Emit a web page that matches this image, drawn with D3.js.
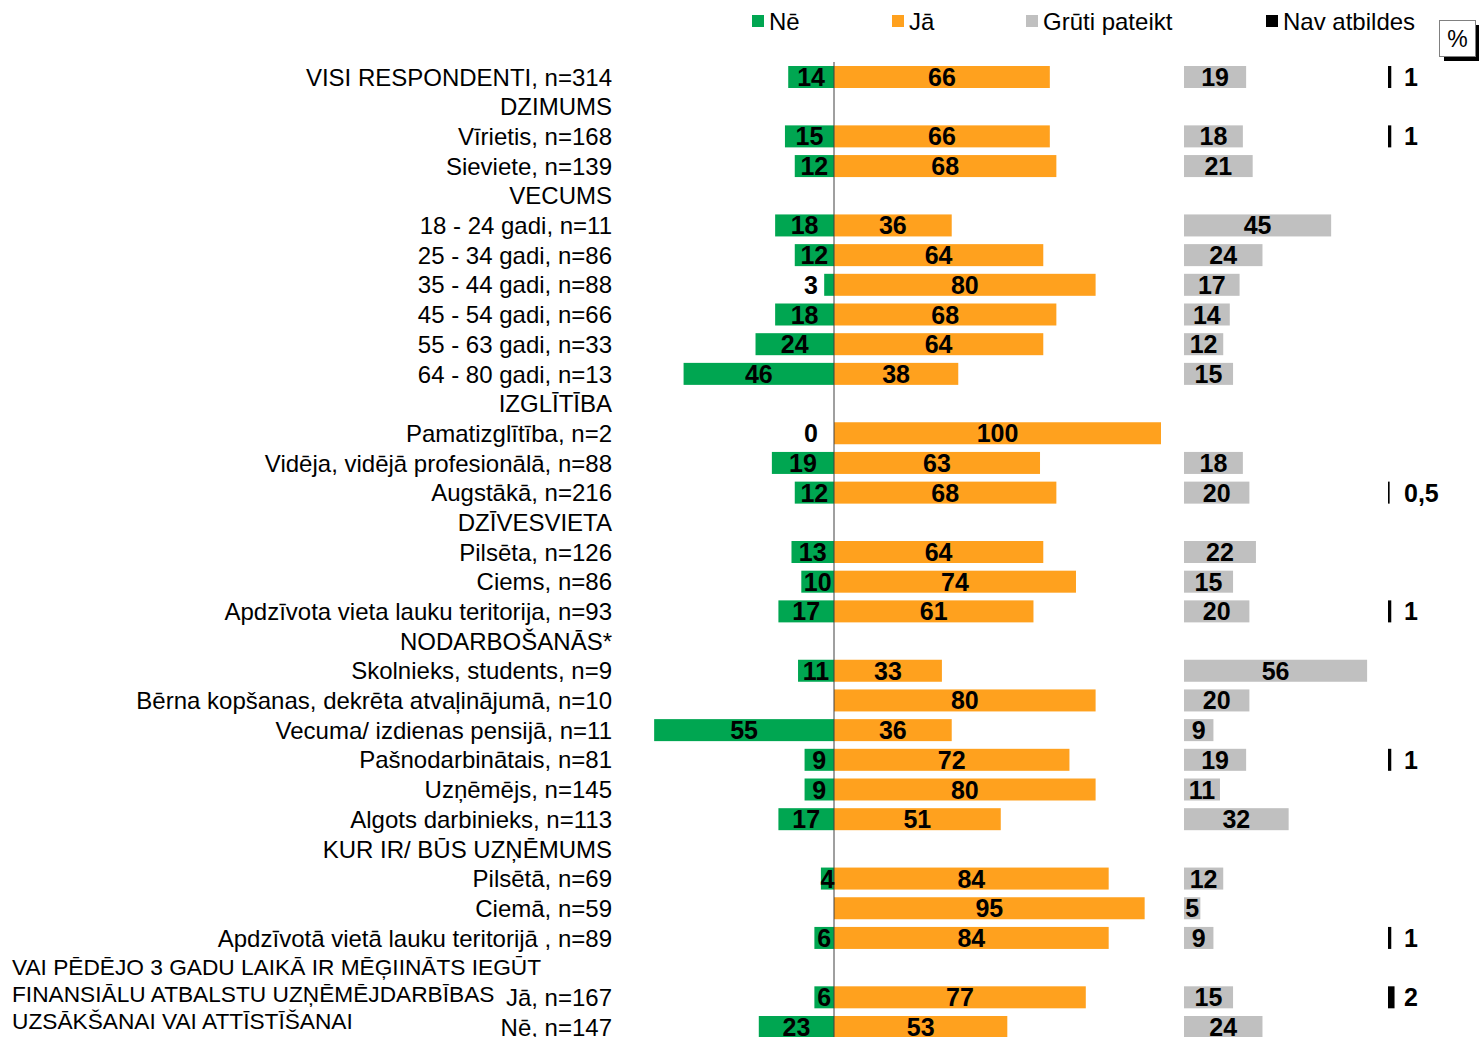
<!DOCTYPE html>
<html><head><meta charset="utf-8">
<script src="https://cdn.jsdelivr.net/npm/d3@7"></script>
<style>body{margin:0;background:#fff}svg{display:block}</style>
</head><body><svg id="c" width="1479" height="1037"></svg>
<script>
const categories = [
"VISI RESPONDENTI, n=314","DZIMUMS","Vīrietis, n=168","Sieviete, n=139","VECUMS",
"18 - 24 gadi, n=11","25 - 34 gadi, n=86","35 - 44 gadi, n=88","45 - 54 gadi, n=66","55 - 63 gadi, n=33","64 - 80 gadi, n=13",
"IZGLĪTĪBA","Pamatizglītība, n=2","Vidēja, vidējā profesionālā, n=88","Augstākā, n=216",
"DZĪVESVIETA","Pilsēta, n=126","Ciems, n=86","Apdzīvota vieta lauku teritorija, n=93",
"NODARBOŠANĀS*","Skolnieks, students, n=9","Bērna kopšanas, dekrēta atvaļinājumā, n=10","Vecuma/ izdienas pensijā, n=11","Pašnodarbinātais, n=81","Uzņēmējs, n=145","Algots darbinieks, n=113",
"KUR IR/ BŪS UZŅĒMUMS","Pilsētā, n=69","Ciemā, n=59","Apdzīvotā vietā lauku teritorijā , n=89",
"","Jā, n=167","Nē, n=147"];
const neValues =    [14,null,15,12,null,18,12,3,18,24,46,null,0,19,12,null,13,10,17,null,11,null,55,9,9,17,null,4,null,6,null,6,23];
const jaValues =    [66,null,66,68,null,36,64,80,68,64,38,null,100,63,68,null,64,74,61,null,33,80,36,72,80,51,null,84,95,84,null,77,53];
const grutiValues = [19,null,18,21,null,45,24,17,14,12,15,null,null,18,20,null,22,15,20,null,56,20,9,19,11,32,null,12,5,9,null,15,24];
const navValues =   [1,null,1,null,null,null,null,null,null,null,null,null,null,null,0.5,null,null,null,1,null,null,null,null,1,null,null,null,null,null,1,null,2,null];
const seriesNames = ["Nē","Jā","Grūti pateikt","Nav atbildes"];
const groupLabel = ["VAI PĒDĒJO 3 GADU LAIKĀ IR MĒĢIINĀTS IEGŪT","FINANSIĀLU ATBALSTU UZŅĒMĒJDARBĪBAS","UZSĀKŠANAI VAI ATTĪSTĪŠANAI"];

const colors = ["#00A651","#FFA11E","#C0C0C0","#000000"];
const svg = d3.select("#c");
const font = "'Liberation Sans', Arial, sans-serif";
const vfont = "'Liberation Sans Narrow', 'Liberation Sans', Arial, sans-serif";

const y = d3.scaleLinear().domain([0, categories.length-1]).range([77, 1027]);
const w = d3.scaleLinear().domain([0,100]).range([0,327]);
const x0 = 834, xG = 1184, xN = 1388, barH = 22;

// category labels
svg.append("g").selectAll("text").data(categories).join("text")
  .attr("x", 612).attr("y", (d,i)=>y(i)).attr("dy","0.36em")
  .attr("text-anchor","end").attr("font-family",font).attr("font-size",24).attr("fill","#000")
  .text(d=>d);
svg.append("g").selectAll("text").data(groupLabel).join("text")
  .attr("x", 12).attr("y",(d,i)=>967+i*27).attr("dy","0.36em")
  .attr("font-family",font).attr("font-size",22.7).attr("fill","#000").text(d=>d);

const idx = d3.range(categories.length);
// Ne bars
svg.append("g").selectAll("rect").data(idx.filter(i=>neValues[i]!=null && neValues[i]>0)).join("rect")
  .attr("x", i=>x0-w(neValues[i])).attr("y", i=>y(i)-barH/2).attr("width", i=>w(neValues[i])).attr("height", barH)
  .attr("fill", colors[0]);
// Ja bars
svg.append("g").selectAll("rect").data(idx.filter(i=>jaValues[i]!=null)).join("rect")
  .attr("x", x0).attr("y", i=>y(i)-barH/2).attr("width", i=>w(jaValues[i])).attr("height", barH)
  .attr("fill", colors[1]);
// Gruti bars
svg.append("g").selectAll("rect").data(idx.filter(i=>grutiValues[i]!=null)).join("rect")
  .attr("x", xG).attr("y", i=>y(i)-barH/2).attr("width", i=>w(grutiValues[i])).attr("height", barH)
  .attr("fill", colors[2]);
// Nav bars
svg.append("g").selectAll("rect").data(idx.filter(i=>navValues[i]!=null)).join("rect")
  .attr("x", xN).attr("y", i=>y(i)-barH/2).attr("width", i=>w(navValues[i])).attr("height", barH)
  .attr("fill", colors[3]);

// axis line
svg.append("line").attr("x1",x0).attr("x2",x0).attr("y1",62).attr("y2",1037).attr("stroke","#404040").attr("stroke-width",1);

function vlab(sel){ return sel.attr("font-family",vfont).attr("font-weight","bold").attr("font-size",25).attr("fill","#000").attr("dy","0.36em"); }
// labels
vlab(svg.append("g").selectAll("text").data(idx.filter(i=>neValues[i]!=null)).join("text")
  .attr("x", i=>neValues[i]<4 ? x0-16 : x0-w(neValues[i])/2)
  .attr("text-anchor", i=>neValues[i]<4 ? "end":"middle")
  .attr("y", i=>y(i)).text(i=>neValues[i]));
vlab(svg.append("g").selectAll("text").data(idx.filter(i=>jaValues[i]!=null)).join("text")
  .attr("x", i=>x0+w(jaValues[i])/2).attr("text-anchor","middle")
  .attr("y", i=>y(i)).text(i=>jaValues[i]));
vlab(svg.append("g").selectAll("text").data(idx.filter(i=>grutiValues[i]!=null)).join("text")
  .attr("x", i=>xG+w(grutiValues[i])/2).attr("text-anchor","middle")
  .attr("y", i=>y(i)).text(i=>grutiValues[i]));
vlab(svg.append("g").selectAll("text").data(idx.filter(i=>navValues[i]!=null)).join("text")
  .attr("x", 1404).attr("text-anchor","start")
  .attr("y", i=>y(i)).text(i=>String(navValues[i]).replace(".",",")));

// legend
const legX = [752, 892, 1026, 1266];
const lg = svg.append("g").selectAll("g").data(seriesNames).join("g")
  .attr("transform",(d,i)=>`translate(${legX[i]},21)`);
lg.append("rect").attr("x",0).attr("y",-6).attr("width",12).attr("height",12).attr("fill",(d,i)=>colors[i]);
lg.append("text").attr("x",17).attr("y",0).attr("dy","0.36em").attr("font-family",font).attr("font-size",24).text(d=>d);

// % box
svg.append("rect").attr("x",1444).attr("y",25).attr("width",36).attr("height",36).attr("fill","#000");
svg.append("rect").attr("x",1439.5).attr("y",20.5).attr("width",36).attr("height",36).attr("fill","#fff").attr("stroke","#808080");
svg.append("text").attr("x",1457.5).attr("y",39).attr("dy","0.36em").attr("text-anchor","middle").attr("font-family",font).attr("font-size",23).text("%");
</script></body></html>
